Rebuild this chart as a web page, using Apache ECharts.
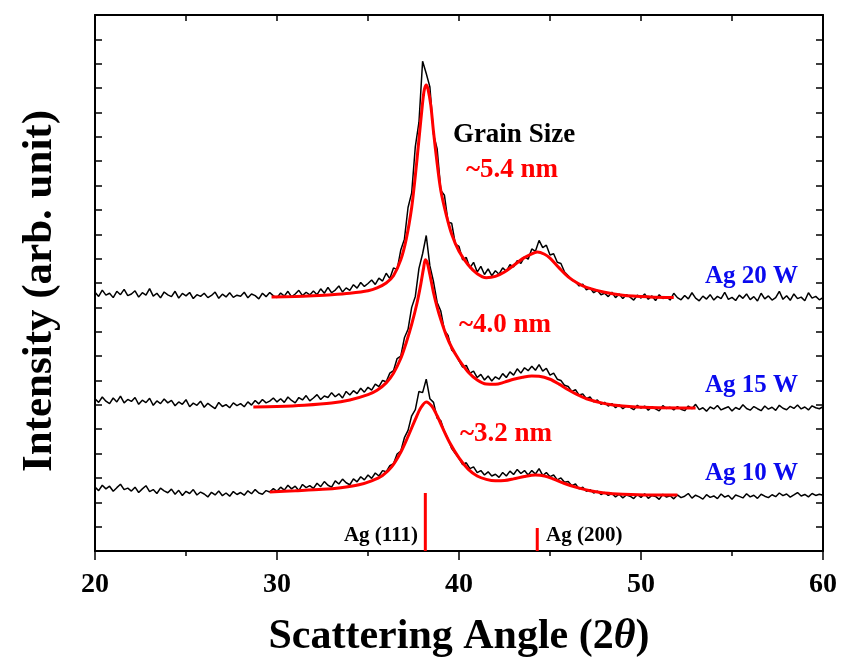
<!DOCTYPE html>
<html>
<head>
<meta charset="utf-8">
<script src="https://cdn.jsdelivr.net/npm/echarts@6/dist/echarts.min.js"></script>
<style>
  html, body { margin: 0; padding: 0; background: #fff; }
  #main { width: 842px; height: 666px; }
</style>
</head>
<body>
<div id="main"></div>
<script>
// 2θ grid of the measured scans (20° .. 60°, 0.2° step)
var xStart = 20, xStep = 0.2, nPts = 201;
var xGrid = [];
for (var k = 0; k < nPts; k++) xGrid.push(+(xStart + k * xStep).toFixed(1));

var b20 = [
  10.62,10.45,10.71,10.50,10.58,10.40,10.66,10.52,10.74,10.48,
  10.55,10.68,10.42,10.60,10.50,10.77,10.46,10.58,10.39,10.63,
  10.51,10.44,10.66,10.38,10.57,10.47,10.61,10.36,10.52,10.45,
  10.58,10.40,10.49,10.63,10.37,10.54,10.43,10.60,10.41,10.50,
  10.46,10.62,10.39,10.55,10.48,10.35,10.58,10.44,10.61,10.47,
  10.40,10.59,10.46,10.66,10.43,10.55,10.70,10.48,10.62,10.51,
  10.67,10.52,10.76,10.58,10.82,10.60,10.71,10.88,10.63,10.80,
  10.70,10.93,10.79,11.02,10.86,10.98,11.12,10.94,11.20,11.08,
  11.40,11.18,11.62,11.55,12.35,12.80,14.10,14.70,16.60,17.60,
  20.10,19.60,19.05,17.10,16.50,14.80,14.60,13.50,13.45,12.60,
  12.50,11.95,12.05,11.62,11.85,11.45,11.68,11.35,11.58,11.30,
  11.50,11.36,11.62,11.48,11.75,11.66,11.92,11.80,12.08,11.98,
  12.40,12.30,12.75,12.45,12.55,12.15,12.20,11.85,11.80,11.45,
  11.30,11.12,11.05,10.88,10.95,10.72,10.80,10.60,10.70,10.52,
  10.58,10.44,10.62,10.40,10.55,10.36,10.52,10.42,10.30,10.50,
  10.38,10.55,10.33,10.47,10.28,10.52,10.36,10.44,10.30,10.58,
  10.40,10.31,10.49,10.35,10.60,10.38,10.27,10.46,10.34,10.52,
  10.30,10.45,10.36,10.62,10.33,10.41,10.28,10.50,10.37,10.55,
  10.32,10.44,10.26,10.58,10.35,10.47,10.30,10.40,10.66,10.33,
  10.48,10.29,10.55,10.36,10.42,10.27,10.60,10.38,10.45,10.31,
  10.40
];
var b15 = [
  6.25,6.10,6.32,6.15,6.05,6.28,6.12,6.36,6.08,6.22,
  6.14,6.30,6.02,6.19,6.09,6.27,5.98,6.16,6.05,6.24,
  6.08,6.18,5.96,6.12,6.02,6.21,5.92,6.07,5.98,6.15,
  5.90,6.06,5.95,5.84,6.10,5.93,6.01,5.88,6.08,5.97,
  6.05,5.92,6.12,5.99,6.18,6.04,6.22,6.08,6.15,6.28,
  6.12,6.25,6.10,6.32,6.18,6.08,6.30,6.20,6.38,6.16,
  6.28,6.42,6.22,6.36,6.30,6.50,6.33,6.45,6.28,6.55,
  6.40,6.58,6.46,6.68,6.52,6.72,6.60,6.85,6.75,7.00,
  6.95,7.30,7.40,7.90,8.00,8.75,9.10,10.00,10.45,11.60,
  12.20,12.95,11.70,11.05,10.20,9.85,9.05,8.85,8.25,8.10,
  7.80,7.55,7.62,7.30,7.38,7.12,7.25,7.02,7.18,6.98,
  7.15,7.05,7.28,7.12,7.35,7.22,7.48,7.30,7.52,7.40,
  7.58,7.42,7.65,7.38,7.50,7.22,7.30,7.05,7.00,6.80,
  6.75,6.55,6.62,6.40,6.45,6.25,6.32,6.12,6.20,6.02,
  6.10,5.95,6.05,5.88,6.00,5.84,5.96,5.90,5.80,5.98,
  5.86,5.95,5.78,5.92,5.83,5.75,5.97,5.85,5.90,5.79,
  5.93,5.82,5.76,5.95,5.84,6.02,5.80,5.88,5.74,5.91,
  5.83,5.97,5.79,5.86,5.92,5.75,5.89,5.81,6.00,5.85,
  5.78,5.93,5.84,5.76,5.95,5.82,5.90,5.77,5.98,5.86,
  5.80,5.94,5.85,5.99,5.83,5.91,5.79,5.96,5.88,5.84,
  5.92
];
var b10 = [
  2.62,2.48,2.70,2.55,2.66,2.45,2.60,2.74,2.52,2.58,
  2.46,2.62,2.40,2.55,2.68,2.44,2.52,2.36,2.58,2.47,
  2.39,2.54,2.33,2.49,2.28,2.45,2.36,2.52,2.30,2.42,
  2.34,2.22,2.41,2.30,2.46,2.27,2.38,2.25,2.44,2.32,
  2.40,2.29,2.47,2.35,2.52,2.38,2.33,2.48,2.42,2.56,
  2.45,2.62,2.50,2.70,2.55,2.66,2.48,2.73,2.60,2.68,
  2.57,2.78,2.64,2.85,2.70,2.62,2.88,2.75,2.95,2.80,
  2.72,2.96,2.84,3.05,2.92,3.12,2.98,3.20,3.08,3.30,
  3.25,3.50,3.58,3.98,4.10,4.65,4.95,5.55,5.80,6.55,
  6.50,7.05,6.25,6.10,5.45,5.35,4.90,4.60,4.20,4.00,
  3.80,3.55,3.62,3.38,3.45,3.22,3.30,3.12,3.25,3.08,
  3.15,3.02,3.22,3.08,3.28,3.14,3.35,3.18,3.30,3.12,
  3.30,3.16,3.38,3.10,3.22,3.05,3.12,2.92,3.00,2.82,
  2.85,2.68,2.75,2.55,2.62,2.45,2.52,2.38,2.46,2.32,
  2.40,2.28,2.36,2.22,2.33,2.18,2.30,2.25,2.15,2.32,
  2.20,2.35,2.16,2.28,2.24,2.12,2.33,2.21,2.27,2.14,
  2.30,2.19,2.25,2.36,2.17,2.29,2.22,2.13,2.31,2.20,
  2.26,2.15,2.34,2.21,2.28,2.12,2.30,2.24,2.18,2.35,
  2.22,2.29,2.16,2.33,2.25,2.19,2.31,2.23,2.38,2.27,
  2.34,2.21,2.30,2.40,2.26,2.32,2.22,2.36,2.28,2.33,
  2.29
];

// fitted profiles [2θ, intensity]
var fit20 = [[29.7,10.43],[31,10.45],[32,10.48],[33,10.52],[34,10.58],[35,10.68],[35.5,10.80],
  [36,11.0],[36.4,11.3],[36.8,11.95],[37.1,12.8],[37.4,14.1],[37.6,15.4],[37.8,16.9],[38.0,18.4],
  [38.1,18.95],[38.2,19.13],[38.3,18.95],[38.45,18.3],[38.6,17.2],[38.8,15.9],[39.0,14.8],
  [39.3,13.8],[39.6,13.0],[40.0,12.3],[40.5,11.75],[41.0,11.38],[41.5,11.22],[42.0,11.27],
  [42.5,11.45],[43.0,11.72],[43.5,12.0],[44.0,12.2],[44.3,12.27],[44.7,12.18],[45.0,12.02],
  [45.5,11.62],[46.0,11.25],[46.5,11.0],[47.0,10.82],[48.0,10.62],[49,10.5],[50.5,10.43],[51.8,10.40]];
var fit15 = [[28.7,5.91],[30,5.93],[31.5,5.98],[33,6.07],[34,6.20],[35,6.42],[35.5,6.60],[36,6.90],
  [36.4,7.30],[36.8,7.90],[37.1,8.55],[37.4,9.30],[37.7,10.20],[37.9,10.95],[38.05,11.6],
  [38.15,11.95],[38.25,11.85],[38.4,11.35],[38.6,10.6],[38.8,10.0],[39.0,9.5],[39.3,8.85],
  [39.6,8.35],[40.0,7.85],[40.5,7.35],[41.0,7.02],[41.5,6.85],[42.0,6.84],[42.5,6.93],[43.0,7.05],
  [43.5,7.13],[44.0,7.18],[44.4,7.17],[45.0,7.05],[45.5,6.85],[46.0,6.62],[46.5,6.42],[47.0,6.25],
  [48.0,6.05],[49.0,5.95],[50.5,5.89],[53.0,5.87]];
var fit10 = [[29.6,2.42],[31,2.47],[32.5,2.53],[33.5,2.60],[34.5,2.72],[35.2,2.88],[35.8,3.10],
  [36.3,3.45],[36.8,4.05],[37.2,4.70],[37.6,5.40],[37.9,5.88],[38.2,6.12],[38.5,5.95],[38.8,5.55],
  [39.1,5.05],[39.5,4.43],[40.0,3.82],[40.5,3.36],[41.0,3.08],[41.5,2.94],[42.0,2.88],[42.5,2.89],
  [43.0,2.96],[43.6,3.06],[44.2,3.12],[44.7,3.08],[45.2,2.95],[45.8,2.77],[46.5,2.60],[47.2,2.47],
  [48,2.38],[49,2.33],[50.5,2.30],[52,2.30]];

// Ag reference reflections
var refPos = [38.15, 44.3];
var refHeight = [2.38, 0.94];
var refNames = ['Ag (111)', 'Ag (200)'];

var xTicks = [20, 30, 40, 50, 60];

var myChart = echarts.init(document.getElementById('main'));
var FONT = "'Liberation Serif', 'Times New Roman', serif";

function pairs(vals) {
  return xGrid.map(function (x, i) { return [x, vals[i]]; });
}

var series = [];
[b20, b15, b10].forEach(function (v) {
  series.push({
    type: 'line', data: pairs(v), showSymbol: false, silent: true,
    lineStyle: { color: '#000', width: 1.5 }, z: 2
  });
});
[fit20, fit15, fit10].forEach(function (f) {
  series.push({
    type: 'line', data: f, showSymbol: false, silent: true, smooth: 0.3,
    lineStyle: { color: '#ff0000', width: 3 }, z: 3
  });
});
refPos.forEach(function (p, i) {
  series.push({
    type: 'line', data: [[p, 0], [p, refHeight[i]]], showSymbol: false, silent: true,
    lineStyle: { color: '#ff0000', width: 3 }, z: 3
  });
});

var commonX = { type: 'value', min: 20, max: 60 };
var commonY = { type: 'value', min: 0, max: 22, interval: 1 };
var frameLine = { show: true, onZero: false, lineStyle: { color: '#000', width: 2 } };

myChart.setOption({
  animation: false,
  grid: { left: 95, right: 19, top: 15, bottom: 115, containLabel: false, outerBoundsMode: 'none' },
  xAxis: [
    Object.assign({}, commonX, {
      position: 'bottom', interval: 10,
      axisLine: frameLine,
      axisTick: { inside: false, length: 9, lineStyle: { color: '#000', width: 1.5 } },
      minorTick: { show: true, splitNumber: 2, length: 5, lineStyle: { color: '#000', width: 1.5 } },
      splitLine: { show: false },
      axisLabel: {
        margin: 20, color: '#000', fontFamily: FONT, fontWeight: 'bold', fontSize: 28,
        formatter: function (v) { return xTicks.indexOf(v) >= 0 ? String(v) : ''; }
      },
      name: '{a|Scattering Angle (2}{b|θ}{a|)}',
      nameLocation: 'middle', nameGap: 65,
      nameTextStyle: {
        rich: {
          a: { fontFamily: FONT, fontWeight: 'bold', fontSize: 42, color: '#000' },
          b: { fontFamily: FONT, fontWeight: 'bold', fontStyle: 'italic', fontSize: 42, color: '#000' }
        }
      }
    }),
    Object.assign({}, commonX, {
      position: 'top', interval: 5,
      axisLine: frameLine,
      axisTick: { inside: true, length: 6, lineStyle: { color: '#000', width: 1.5 } },
      axisLabel: { show: false },
      splitLine: { show: false }
    })
  ],
  yAxis: [
    Object.assign({}, commonY, {
      position: 'left',
      axisLine: frameLine,
      axisTick: { show: true, inside: true, length: 7, lineStyle: { color: '#000', width: 1.5 } },
      axisLabel: { show: false },
      splitLine: { show: false }
    }),
    Object.assign({}, commonY, {
      position: 'right',
      axisLine: frameLine,
      axisTick: { show: true, inside: true, length: 7, lineStyle: { color: '#000', width: 1.5 } },
      axisLabel: { show: false },
      splitLine: { show: false }
    })
  ],
  series: series,
  graphic: [
    { type: 'text', x: 40, y: 291, rotation: Math.PI / 2,
      style: { text: 'Intensity (arb. unit)', font: 'bold 43px ' + FONT, fill: '#000', align: 'center', verticalAlign: 'middle' } },
    { type: 'text', x: 514, y: 135,
      style: { text: 'Grain Size', font: 'bold 27px ' + FONT, fill: '#000', align: 'center', verticalAlign: 'middle' } },
    { type: 'text', x: 512, y: 170,
      style: { text: '~5.4 nm', font: 'bold 27px ' + FONT, fill: '#ff0000', align: 'center', verticalAlign: 'middle' } },
    { type: 'text', x: 505, y: 325,
      style: { text: '~4.0 nm', font: 'bold 27px ' + FONT, fill: '#ff0000', align: 'center', verticalAlign: 'middle' } },
    { type: 'text', x: 506, y: 434,
      style: { text: '~3.2 nm', font: 'bold 27px ' + FONT, fill: '#ff0000', align: 'center', verticalAlign: 'middle' } },
    { type: 'text', x: 798, y: 277,
      style: { text: 'Ag 20 W', font: 'bold 25px ' + FONT, fill: '#0a0aee', align: 'right', verticalAlign: 'middle' } },
    { type: 'text', x: 798, y: 386,
      style: { text: 'Ag 15 W', font: 'bold 25px ' + FONT, fill: '#0a0aee', align: 'right', verticalAlign: 'middle' } },
    { type: 'text', x: 798, y: 474,
      style: { text: 'Ag 10 W', font: 'bold 25px ' + FONT, fill: '#0a0aee', align: 'right', verticalAlign: 'middle' } },
    { type: 'text', x: 418, y: 536,
      style: { text: refNames[0], font: 'bold 21px ' + FONT, fill: '#000', align: 'right', verticalAlign: 'middle' } },
    { type: 'text', x: 546, y: 536,
      style: { text: refNames[1], font: 'bold 21px ' + FONT, fill: '#000', align: 'left', verticalAlign: 'middle' } }
  ]
});
</script>
</body>
</html>
